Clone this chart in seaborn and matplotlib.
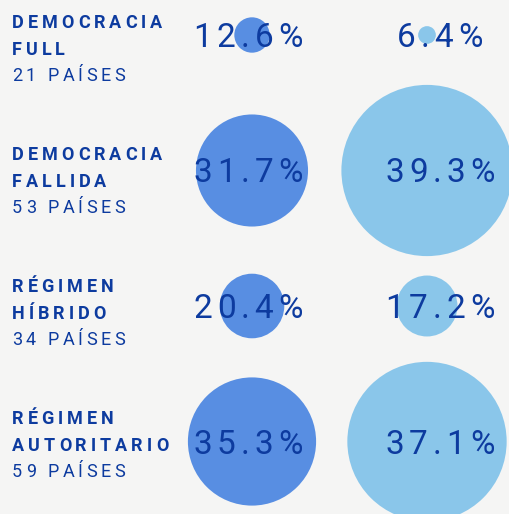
import matplotlib
matplotlib.use("Agg")
import matplotlib.pyplot as plt
import seaborn as sns
import pandas as pd
from matplotlib.font_manager import FontProperties, findfont, get_font
from matplotlib.transforms import IdentityTransform

# ---------------- data ----------------
categories = ["Democracia full", "Democracia fallida", "Régimen híbrido", "Régimen autoritario"]
label_line1 = ["DEMOCRACIA", "DEMOCRACIA", "RÉGIMEN", "RÉGIMEN"]
label_line2 = ["FULL", "FALLIDA", "HÍBRIDO", "AUTORITARIO"]
country_counts = [21, 53, 34, 59]
series_names = ["Países", "Población"]
share_countries = [12.6, 31.7, 20.4, 35.3]
share_population = [6.4, 39.3, 17.2, 37.1]

# ---------------- style ----------------
W, H, DPI = 510, 514, 100
BG = "#f5f5f4"
TEXT = "#0d3b9f"
COL_COLORS = {"Países": "#5089e2", "Población": "#84c4ea"}
RADIUS_SCALE = {"Países": 0.745, "Población": 0.87}   # radius_px = scale * value ** 1.25
RADIUS_POWER = 1.25

sns.set_style("white")
plt.rcParams["font.family"] = ["Roboto", "DejaVu Sans"]

df = pd.DataFrame({
    "category": categories * 2,
    "series": [series_names[0]] * 4 + [series_names[1]] * 4,
    "value": share_countries + share_population,
})
radius_px = df["series"].map(RADIUS_SCALE) * df["value"] ** RADIUS_POWER
df["area"] = (2 * radius_px * 72 / DPI) ** 2
size_table = dict(zip(df["value"], df["area"]))

fig = plt.figure(figsize=(W / DPI, H / DPI), dpi=DPI, facecolor=BG)
ax = fig.add_axes([0, 0, 1, 1])
ax.set_facecolor(BG)

sns.scatterplot(data=df, x="series", y="category", hue="series", palette=COL_COLORS,
                size="value", sizes=size_table, legend=False, linewidth=0,
                alpha=0.95, ax=ax, zorder=2)

# map category positions to the canvas
col_px = (252, 427)
row_px = (35, 441.5)
ux = col_px[1] - col_px[0]
uy = (row_px[1] - row_px[0]) / 3
ax.set_xlim(-col_px[0] / ux, (W - col_px[0]) / ux)
ax.set_ylim((H - row_px[0]) / uy, -row_px[0] / uy)
ax.set_axis_off()


def spaced_text(x, y_top, s, size_pt, weight, spacing, ha="left"):
    """Draw text with letter spacing; x, y_top in pixels from the top-left corner (baseline)."""
    fp = FontProperties(family="Roboto", weight=weight, size=size_pt)
    font = get_font(findfont(fp))
    font.set_size(size_pt, DPI)
    widths = []
    for c in s:
        if c == " ":
            widths.append(font.load_char(ord(c)).linearHoriAdvance / 65536)
        else:
            font.set_text(c, 0.0)
            widths.append(font.get_width_height()[0] / 64)
    total = sum(widths) + spacing * (len(s) - 1)
    cx = x - total / 2 if ha == "center" else x
    for c, w in zip(s, widths):
        if c != " ":
            fig.text(cx, H - y_top, c, fontproperties=fp, color=TEXT,
                     ha="left", va="baseline", transform=IdentityTransform(), zorder=5)
        cx += w + spacing


# row labels
label_baselines = [28, 160, 292, 424]
for i in range(len(categories)):
    b = label_baselines[i]
    spaced_text(12, b, label_line1[i], 13.0, "bold", 4.0)
    spaced_text(12, b + 27, label_line2[i], 13.0, "bold", 4.0)
    spaced_text(12, b + 53, f"{country_counts[i]} PAÍSES", 13.0, "normal", 3.6)

# percentage labels, positioned through the data transform
text_dx = {"Países": -4, "Población": 13}
for _, r in df.iterrows():
    xd = series_names.index(r["series"])
    yd = categories.index(r["category"])
    px, py = ax.transData.transform((xd, yd))
    spaced_text(px + text_dx[r["series"]], H - py + 12, f"{r['value']:.1f}%", 24.0, "normal", 5.0, ha="center")

fig.savefig("out.png", dpi=DPI, facecolor=BG)
